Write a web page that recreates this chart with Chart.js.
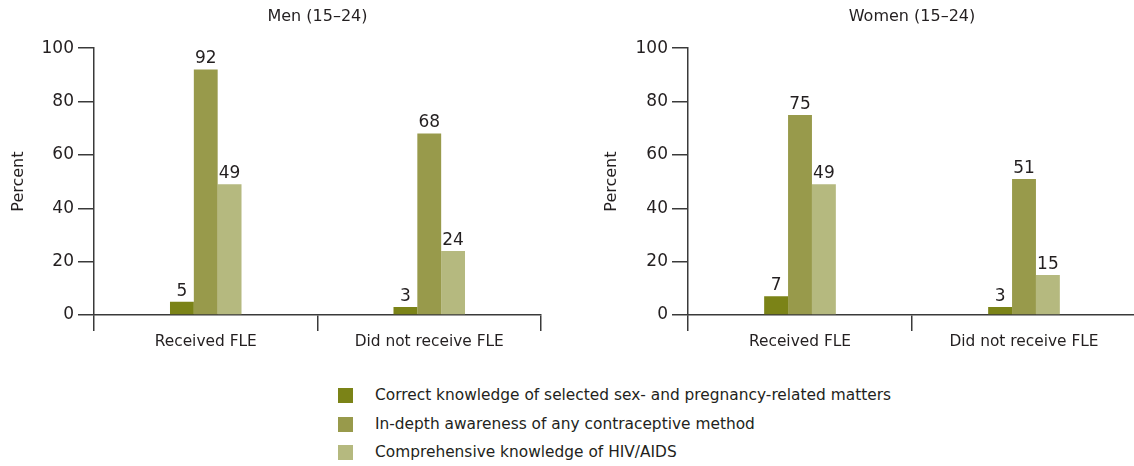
<!DOCTYPE html>
<html>
<head>
<meta charset="utf-8">
<script src="https://cdn.jsdelivr.net/npm/chart.js@4/dist/chart.umd.min.js"></script>
<style>
  html, body { margin: 0; padding: 0; background: #fff; width: 1134px; height: 466px; overflow: hidden; position: relative; }
  #men { position: absolute; left: 0; top: 0; }
  #women { position: absolute; left: 560px; top: 0; }
  #legend { position: absolute; left: 338px; top: 388px; font-family: "DejaVu Sans", sans-serif; font-size: 15.4px; color: #231f20; }
  .row { height: 28.5px; display: flex; align-items: flex-start; }
  .sw { width: 15px; height: 15px; margin-right: 22px; flex: none; }
</style>
</head>
<body>
<canvas id="men" width="560" height="360"></canvas>
<canvas id="women" width="576" height="360"></canvas>
<div id="legend"></div>
<script>
const categories = ["Received FLE", "Did not receive FLE"];
const seriesNames = [
    "Correct knowledge of selected sex- and pregnancy-related matters",
    "In-depth awareness of any contraceptive method",
    "Comprehensive knowledge of HIV/AIDS",
];
const colores = ["#7b8317", "#989a4b", "#b5b97f"];
const menValues = [[5, 3], [92, 68], [49, 24]];
const womenValues = [[7, 3], [75, 51], [49, 15]];
const yTicks = [0, 20, 40, 60, 80, 100];

const textColor = "#231f20";
const axisColor = "#3a3a3a";
const fam = "'DejaVu Sans', sans-serif";

// numbers on top of the bars
const etiquetas = {
    id: "etiquetas",
    afterDatasetsDraw(chart) {
        const ctx = chart.ctx;
        ctx.save();
        ctx.font = "17px " + fam;
        ctx.fillStyle = textColor;
        ctx.textAlign = "center";
        ctx.textBaseline = "bottom";
        chart.data.datasets.forEach((ds, i) => {
            chart.getDatasetMeta(i).data.forEach((bar, j) => {
                ctx.fillText(String(ds.data[j]), bar.x, bar.y - 2);
            });
        });
        ctx.restore();
    },
};

function grafico(id, titulo, valores, yWidth, titlePad, rightPad) {
    const ctx = document.getElementById(id).getContext("2d");
    return new Chart(ctx, {
        type: "bar",
        data: {
            labels: categories,
            datasets: valores.map((v, i) => ({
                label: seriesNames[i],
                data: v,
                backgroundColor: colores[i],
                borderWidth: 0,
                categoryPercentage: 0.32,
                barPercentage: 1,
            })),
        },
        options: {
            responsive: false,
            animation: false,
            layout: { padding: { left: 0, right: rightPad, top: 0, bottom: 0 } },
            plugins: {
                legend: { display: false },
                tooltip: { enabled: false },
                title: {
                    display: true,
                    text: titulo,
                    fullSize: false,
                    color: textColor,
                    font: { family: fam, size: 16, weight: "normal" },
                    padding: { top: 7, bottom: 22 },
                },
            },
            scales: {
                x: {
                    offset: true,
                    grid: {
                        offset: true,
                        drawOnChartArea: false,
                        drawTicks: true,
                        tickLength: 16,
                        color: axisColor,
                        lineWidth: 1.5,
                    },
                    border: { display: true, color: axisColor, width: 1.5 },
                    ticks: { color: textColor, font: { family: fam, size: 15.4 }, padding: 2, maxRotation: 0 },
                    afterFit: (s) => { s.height = 45; },
                },
                y: {
                    min: 0,
                    max: 100,
                    afterBuildTicks: (s) => { s.ticks = yTicks.map((v) => ({ value: v })); },
                    grid: {
                        drawOnChartArea: false,
                        drawTicks: true,
                        tickLength: 16,
                        color: axisColor,
                        lineWidth: 1.5,
                    },
                    border: { display: true, color: axisColor, width: 1.5 },
                    ticks: { color: textColor, font: { family: fam, size: 17 }, padding: 4 },
                    title: {
                        display: true,
                        text: "Percent",
                        color: textColor,
                        font: { family: fam, size: 16 },
                        padding: { top: titlePad, bottom: 0 },
                    },
                    afterFit: (s) => { s.width = yWidth; },
                },
            },
        },
        plugins: [etiquetas],
    });
}

grafico("men", "Men (15\u201324)", menValues, 94, 9, 19);
grafico("women", "Women (15\u201324)", womenValues, 128, 42, 0);

// legend
const leyenda = document.getElementById("legend");
seriesNames.forEach((n, i) => {
    const row = document.createElement("div");
    row.className = "row";
    const sw = document.createElement("div");
    sw.className = "sw";
    sw.style.background = colores[i];
    const t = document.createElement("span");
    t.textContent = n;
    t.style.lineHeight = "15px";
    row.appendChild(sw);
    row.appendChild(t);
    leyenda.appendChild(row);
});
</script>
</body>
</html>
